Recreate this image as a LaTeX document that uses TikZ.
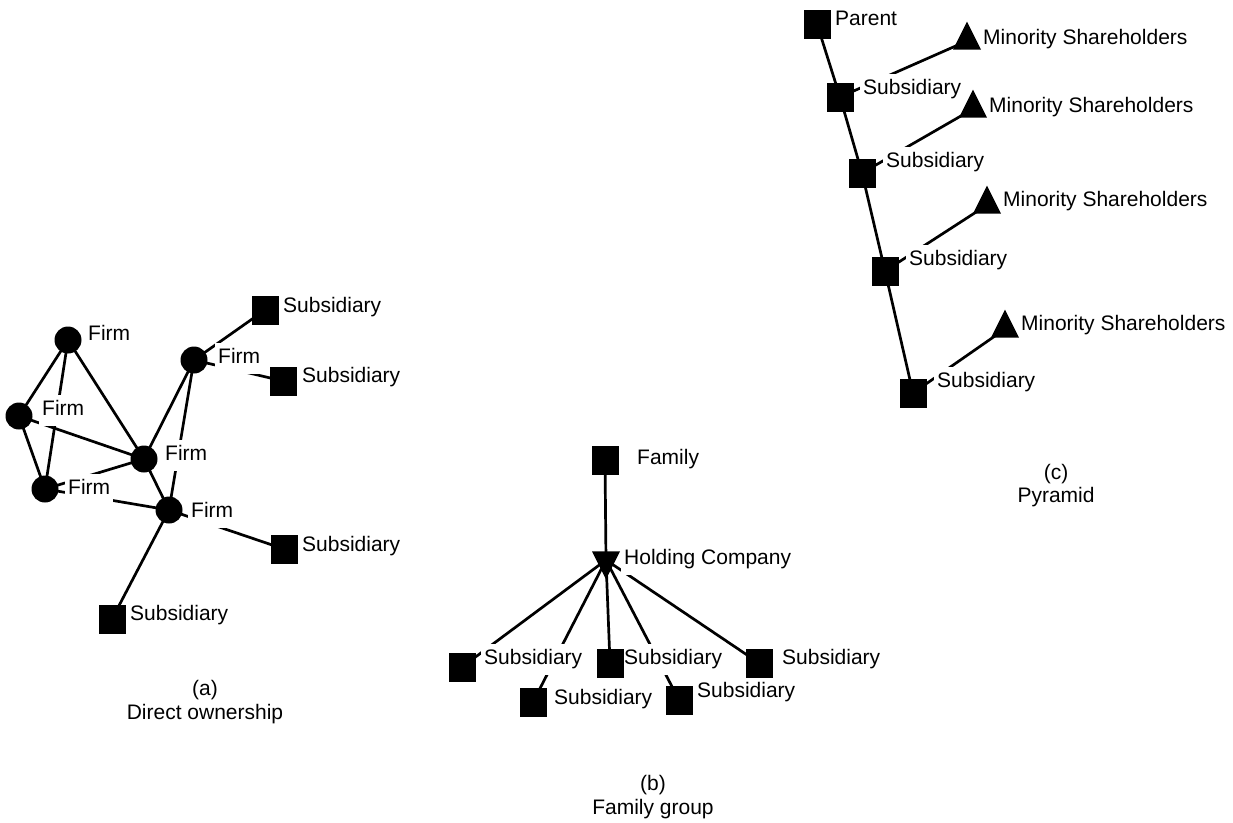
\documentclass[tikz,border=0pt]{standalone}
\usepackage{fontspec}
\setmainfont{Liberation Sans}
\usepackage{tikz}
\usetikzlibrary{positioning, shapes.geometric, backgrounds}

\begin{document}
\begin{tikzpicture}[x=1pt, y=-1pt,
    every node/.style={font=\fontsize{21}{24}\selectfont},
    firm/.style={circle, fill=black, minimum size=27pt, inner sep=0pt},
    sub/.style={rectangle, fill=black, minimum width=27pt, minimum height=29pt, inner sep=0pt},
    tri/.style={isosceles triangle, isosceles triangle stretches, fill=black, minimum width=28pt, minimum height=28pt, inner sep=0pt},
    lbl/.style={anchor=base west, fill=white, inner xsep=3pt, inner ysep=6pt, text height=15pt, text depth=4.5pt},
    captext/.style={anchor=base},
    tie/.style={line width=2.7pt}]
    \useasboundingbox (0,0) rectangle (1233,822);

    % Labels (white boxes cut the ties)
    \foreach \n/\x/\y/\txt in {lA/88/333/Firm, lB/42/408/Firm, lC/68/487/Firm, lD/165/453/Firm, lE/191/510/Firm, lF/218/356/Firm,
        lS1/283/305/Subsidiary, lS2/302/375/Subsidiary, lS3/302/544/Subsidiary, lS4/130/613/Subsidiary,
        lFam/637/457/Family, lHold/624/557/Holding Company, lB1/484/657/Subsidiary, lB2/554/697/Subsidiary,
        lB3/624/657/Subsidiary, lB4/697/690/Subsidiary, lB5/782/657/Subsidiary,
        lPar/835/18/Parent, lC1/863/87/Subsidiary, lC2/886/160/Subsidiary, lC3/909/258/Subsidiary, lC4/937/380/Subsidiary,
        lM1/983/37/Minority Shareholders, lM2/989/105/Minority Shareholders, lM3/1003/199/Minority Shareholders, lM4/1021/323/Minority Shareholders} {
      \node[lbl] (\n) at (\x-3,\y+7.5) {\txt};
    }

    % Firms
    \foreach \n/\x/\y in {fA/68/340, fB/19/416, fC/45/489, fD/144/459, fE/169/510, fF/194/360}
      \node[firm] (\n) at (\x,\y) {};

    % Subsidiaries, family, parent
    \foreach \n/\x/\y in {sA1/265/310, sA2/283/381, sA3/284/549, sA4/112/619,
        fam/605/460, sB1/462/667, sB2/533/702, sB3/610/663, sB4/679/700, sB5/759/663,
        par/817/24, sC1/840/97, sC2/862/173, sC3/885/271, sC4/913/393}
      \node[sub] (\n) at (\x,\y) {};

    % Holding company and minority shareholders
    \node[tri, shape border rotate=270] (hold) at (606,560) {};
    \foreach \n/\x/\y in {ms1/967/41, ms2/973/109, ms3/987/205, ms4/1005/329}
      \node[tri, shape border rotate=90] (\n) at (\x,\y) {};

    % Ties
    \begin{pgfonlayer}{background}
      \foreach \m/\k in {fA/fB, fA/fC, fA/fD, fB/fC, fB/fD, fC/fD, fC/fE, fD/fE, fD/fF, fF/fE,
          fF/sA1, fF/sA2, fE/sA3, fE/sA4,
          fam/hold, hold/sB1, hold/sB2, hold/sB3, hold/sB4, hold/sB5,
          par/sC1, sC1/sC2, sC2/sC3, sC3/sC4, ms1/sC1, ms2/sC2, ms3/sC3, ms4/sC4}
        \draw[tie] (\m.center) -- (\k.center);
    \end{pgfonlayer}

    % Captions
    \node[captext] (capa) at (205,695) {(a)};
    \node[captext] (capatxt) at (205,719) {Direct ownership};
    \node[captext] (capb) at (653,790) {(b)};
    \node[captext] (capbtxt) at (653,814) {Family group};
    \node[captext] (capc) at (1056,479) {(c)};
    \node[captext] (capctxt) at (1056,502) {Pyramid};

\end{tikzpicture}
\end{document}
